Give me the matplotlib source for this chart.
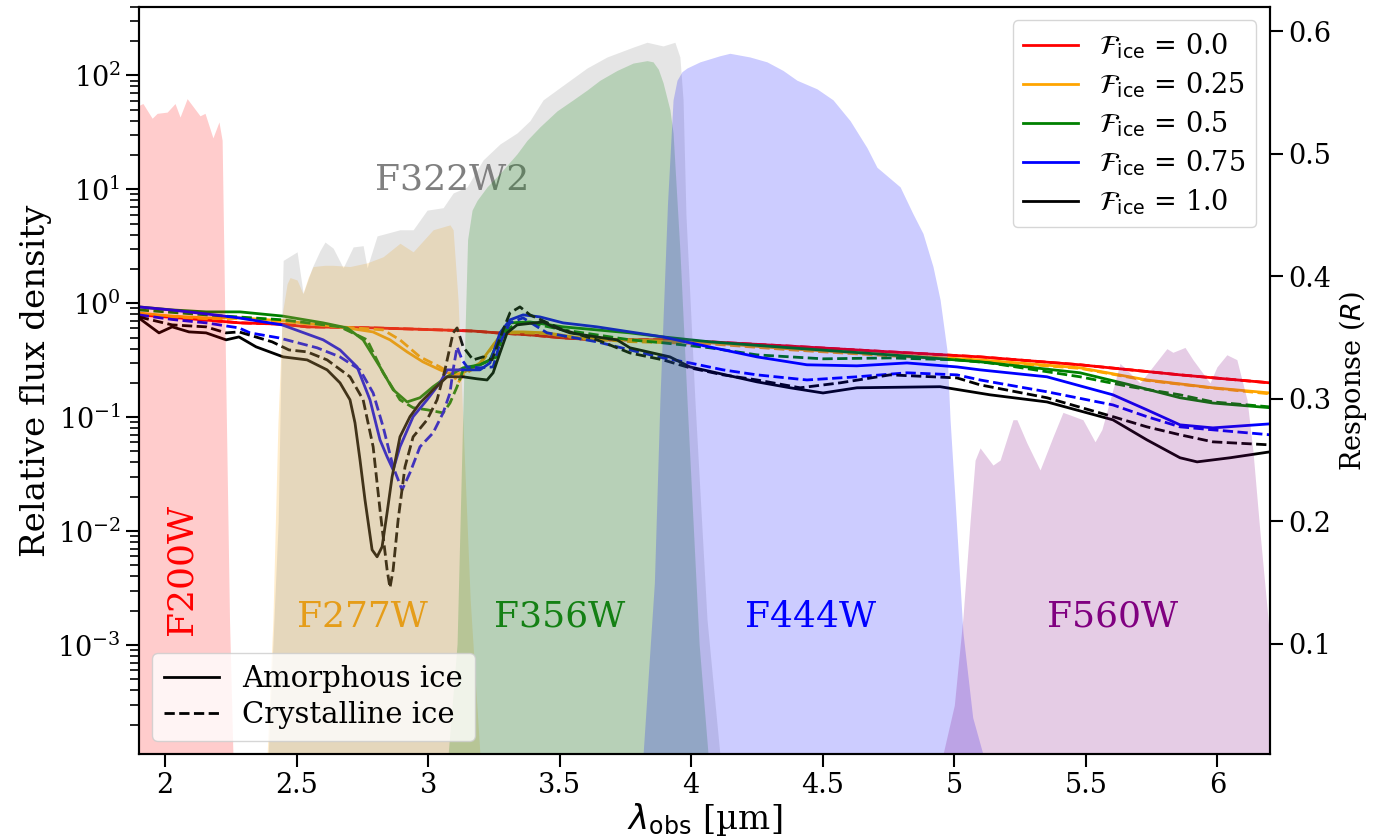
import matplotlib
matplotlib.use("Agg")
import matplotlib.pyplot as plt
from matplotlib.lines import Line2D

plt.rcParams['font.family'] = 'serif'
plt.rcParams['font.serif'] = ['DejaVu Serif']
plt.rcParams['mathtext.fontset'] = 'dejavusans'

# --- filter response curves (wavelength in micron, response R) ---
f200w_wl = [1.72, 1.76, 1.80, 1.84, 1.905, 1.916, 1.951, 1.970, 2.008, 2.038, 2.057, 2.084,
            2.133, 2.152, 2.182, 2.205, 2.217, 2.232, 2.245, 2.258, 2.27]
f200w_r = [0.0, 0.1, 0.45, 0.52, 0.540, 0.541, 0.529, 0.533, 0.534, 0.541, 0.530, 0.545,
           0.531, 0.533, 0.513, 0.526, 0.511, 0.299, 0.12, 0.01, 0.0]

f277w_wl = [2.37, 2.388, 2.41, 2.429, 2.446, 2.464, 2.475, 2.502, 2.524, 2.544, 2.563, 2.608, 2.639,
            2.703, 2.768, 2.829, 2.893, 2.943, 3.019, 3.083, 3.095, 3.114, 3.129, 3.16, 3.197, 3.21]
f277w_r = [0.0, 0.01, 0.12, 0.28, 0.37, 0.394, 0.399, 0.397, 0.386, 0.399, 0.408, 0.409, 0.409,
           0.408, 0.411, 0.416, 0.427, 0.420, 0.438, 0.442, 0.438, 0.38, 0.299, 0.136, 0.01, 0.0]

f322w2_wl = [2.39, 2.43, 2.445, 2.449, 2.502, 2.525, 2.559, 2.589, 2.608, 2.639, 2.677, 2.715,
             2.753, 2.768, 2.806, 2.893, 2.943, 2.996, 3.057, 3.095, 3.148, 3.209, 3.273, 3.338,
             3.387, 3.437, 3.501, 3.604, 3.680, 3.779, 3.832, 3.893, 3.938, 3.957, 3.969, 3.98,
             4.014, 4.06, 4.109, 4.13]
f322w2_r = [0.0, 0.2, 0.38, 0.413, 0.420, 0.386, 0.407, 0.421, 0.428, 0.423, 0.407, 0.424,
            0.425, 0.407, 0.433, 0.438, 0.438, 0.454, 0.456, 0.468, 0.473, 0.495, 0.508, 0.517,
            0.527, 0.544, 0.554, 0.570, 0.579, 0.587, 0.591, 0.588, 0.591, 0.579, 0.544, 0.45,
            0.299, 0.12, 0.01, 0.0]

f356w_wl = [3.05, 3.076, 3.11, 3.133, 3.15, 3.167, 3.186, 3.224, 3.273, 3.338, 3.376, 3.425,
            3.490, 3.551, 3.604, 3.653, 3.718, 3.779, 3.832, 3.855, 3.875, 3.893, 3.919, 3.931,
            3.957, 3.984, 4.03, 4.064, 4.09]
f356w_r = [0.0, 0.01, 0.1, 0.299, 0.43, 0.454, 0.462, 0.473, 0.484, 0.500, 0.511, 0.522,
           0.535, 0.544, 0.552, 0.560, 0.568, 0.574, 0.576, 0.575, 0.569, 0.558, 0.536, 0.517,
           0.421, 0.299, 0.1, 0.01, 0.0]

f444w_wl = [3.79, 3.817, 3.86, 3.881, 3.91, 3.931, 3.946, 3.965, 3.984, 4.033, 4.109, 4.147, 4.223,
            4.288, 4.349, 4.402, 4.478, 4.539, 4.604, 4.668, 4.706, 4.794, 4.843, 4.881, 4.919,
            4.946, 4.972, 4.984, 5.003, 5.033, 5.07, 5.109, 5.13]
f444w_r = [0.0, 0.01, 0.15, 0.299, 0.46, 0.544, 0.560, 0.567, 0.570, 0.575, 0.580, 0.582, 0.579,
           0.575, 0.568, 0.560, 0.553, 0.544, 0.527, 0.505, 0.489, 0.473, 0.451, 0.435, 0.408,
           0.381, 0.340, 0.283, 0.217, 0.109, 0.04, 0.01, 0.0]

f560w_wl = [4.93, 4.957, 5.0, 5.033, 5.06, 5.079, 5.098, 5.147, 5.174, 5.223, 5.238, 5.276,
            5.326, 5.375, 5.413, 5.489, 5.535, 5.561, 5.592, 5.630, 5.706, 5.808, 5.831, 5.877,
            5.907, 5.972, 5.998, 6.036, 6.074, 6.113, 6.135, 6.162, 6.192, 6.22, 6.25]
f560w_r = [0.0, 0.01, 0.05, 0.122, 0.2, 0.250, 0.260, 0.246, 0.250, 0.283, 0.283, 0.264,
           0.242, 0.269, 0.289, 0.283, 0.265, 0.275, 0.299, 0.329, 0.313, 0.341, 0.338, 0.342,
           0.332, 0.313, 0.326, 0.336, 0.332, 0.299, 0.258, 0.191, 0.122, 0.05, 0.0]

# --- model spectra, relative flux density ---
wl_ice00 = [1.90, 2.03, 2.16, 2.285, 2.445, 2.54, 2.66, 2.79, 2.92, 3.045, 3.17, 3.262,
            3.387, 3.513, 3.642, 3.893, 4.071, 4.376, 4.756, 5.098, 5.478, 5.858, 6.20]
flux_ice00 = [0.79, 0.75, 0.71, 0.672, 0.655, 0.62, 0.615, 0.607, 0.595, 0.583, 0.57, 0.549,
              0.527, 0.496, 0.477, 0.477, 0.458, 0.42, 0.374, 0.338, 0.288, 0.235, 0.20]

wl_ice25_am = [1.90, 2.03, 2.16, 2.285, 2.45, 2.665, 2.79, 2.855, 2.92, 2.98, 3.045, 3.095, 3.133,
               3.197, 3.262, 3.30, 3.361, 3.452, 3.577, 3.767, 4.071, 4.376, 4.756, 5.098, 5.478,
               5.732, 5.983, 6.20]
flux_ice25_am = [0.82, 0.77, 0.743, 0.743, 0.70, 0.62, 0.56, 0.477, 0.374, 0.306, 0.26, 0.235, 0.245,
                 0.299, 0.477, 0.56, 0.56, 0.549, 0.496, 0.477, 0.449, 0.397, 0.352, 0.318, 0.271,
                 0.212, 0.181, 0.163]
wl_ice25_cr = [1.90, 2.03, 2.16, 2.285, 2.45, 2.665, 2.829, 2.893, 2.969, 3.045, 3.095, 3.114, 3.133,
               3.197, 3.262, 3.30, 3.361, 3.452, 3.577, 3.767, 4.071, 4.376, 4.756, 5.098, 5.478,
               5.732, 5.983, 6.20]
flux_ice25_cr = [0.80, 0.76, 0.73, 0.735, 0.69, 0.62, 0.583, 0.477, 0.338, 0.276, 0.235, 0.20, 0.235,
                 0.288, 0.477, 0.549, 0.55, 0.54, 0.49, 0.46, 0.44, 0.39, 0.345, 0.312, 0.268,
                 0.21, 0.18, 0.16]

wl_ice50_am = [1.90, 2.027, 2.156, 2.285, 2.449, 2.601, 2.692, 2.753, 2.817, 2.867, 2.92, 2.969,
               3.019, 3.072, 3.133, 3.197, 3.235, 3.273, 3.311, 3.387, 3.513, 3.642, 3.767, 3.893,
               4.071, 4.376, 4.756, 5.098, 5.478, 5.668, 5.858, 5.983, 6.20]
flux_ice50_am = [0.928, 0.873, 0.839, 0.839, 0.77, 0.672, 0.607, 0.477, 0.276, 0.174, 0.136, 0.148,
                 0.185, 0.226, 0.271, 0.288, 0.318, 0.506, 0.672, 0.685, 0.62, 0.583, 0.549, 0.506,
                 0.458, 0.406, 0.352, 0.306, 0.245, 0.192, 0.148, 0.133, 0.121]
wl_ice50_cr = [1.90, 2.156, 2.449, 2.665, 2.768, 2.829, 2.893, 2.943, 2.996, 3.057, 3.083, 3.11,
               3.133, 3.197, 3.262, 3.285, 3.338, 3.387, 3.513, 3.642, 3.767, 3.893, 4.071, 4.25,
               4.501, 4.756, 5.01, 5.136, 5.478, 5.668, 5.858, 5.983, 6.20]
flux_ice50_cr = [0.873, 0.79, 0.714, 0.62, 0.477, 0.245, 0.142, 0.121, 0.116, 0.109, 0.133, 0.185,
                 0.26, 0.288, 0.338, 0.549, 0.672, 0.672, 0.583, 0.527, 0.477, 0.449, 0.406, 0.352,
                 0.325, 0.331, 0.318, 0.299, 0.226, 0.185, 0.157, 0.136, 0.123]

wl_ice75_am = [1.90, 2.027, 2.156, 2.281, 2.445, 2.601, 2.665, 2.73, 2.779, 2.817, 2.844, 2.867,
               2.893, 2.943, 2.996, 3.045, 3.072, 3.133, 3.197, 3.235, 3.273, 3.311, 3.361, 3.425,
               3.513, 3.642, 3.767, 3.893, 3.995, 4.25, 4.44, 4.63, 4.82, 5.01, 5.098, 5.352,
               5.603, 5.732, 5.858, 5.983, 6.20]
flux_ice75_am = [0.928, 0.87, 0.806, 0.743, 0.645, 0.477, 0.389, 0.276, 0.142, 0.0632, 0.0449, 0.0345,
                 0.0549, 0.101, 0.142, 0.2, 0.26, 0.26, 0.26, 0.299, 0.549, 0.714, 0.79, 0.758,
                 0.672, 0.62, 0.56, 0.506, 0.449, 0.338, 0.288, 0.282, 0.299, 0.276, 0.26, 0.226,
                 0.157, 0.116, 0.0856, 0.0805, 0.0873]
wl_ice75_cr = [1.90, 2.027, 2.156, 2.281, 2.323, 2.433, 2.578, 2.665, 2.741, 2.791, 2.829, 2.867,
               2.901, 2.931, 2.969, 3.019, 3.057, 3.083, 3.095, 3.11, 3.129, 3.148, 3.197, 3.247,
               3.273, 3.311, 3.361, 3.452, 3.642, 3.767, 3.893, 3.995, 4.121, 4.25, 4.44, 4.63,
               4.82, 5.01, 5.098, 5.352, 5.603, 5.732, 5.858, 5.983, 6.20]
flux_ice75_cr = [0.79, 0.72, 0.672, 0.607, 0.549, 0.496, 0.406, 0.338, 0.26, 0.163, 0.0822, 0.0366,
                 0.023, 0.0325, 0.0549, 0.0728, 0.109, 0.163, 0.26, 0.414, 0.318, 0.276, 0.271, 0.276,
                 0.449, 0.672, 0.743, 0.549, 0.458, 0.389, 0.331, 0.299, 0.26, 0.235, 0.212, 0.226,
                 0.245, 0.235, 0.212, 0.167, 0.128, 0.101, 0.0822, 0.0774, 0.07]

wl_ice100_am = [1.90, 1.977, 2.027, 2.091, 2.156, 2.232, 2.281, 2.346, 2.449, 2.54, 2.616, 2.665,
                2.703, 2.722, 2.741, 2.76, 2.787, 2.806, 2.825, 2.844, 2.863, 2.893, 2.931, 2.969,
                3.019, 3.072, 3.133, 3.186, 3.224, 3.247, 3.273, 3.30, 3.338, 3.437, 3.475, 3.539,
                3.665, 3.718, 3.767, 3.919, 3.995, 4.25, 4.376, 4.501, 4.63, 4.946, 5.136, 5.352,
                5.603, 5.732, 5.858, 5.923, 6.048, 6.20]
flux_ice100_am = [0.743, 0.549, 0.62, 0.56, 0.549, 0.477, 0.506, 0.414, 0.338, 0.318, 0.26, 0.2,
                  0.142, 0.0891, 0.0422, 0.0188, 0.00685, 0.00595, 0.00728, 0.0145, 0.0299, 0.0672,
                  0.101, 0.133, 0.174, 0.226, 0.226, 0.217, 0.212, 0.245, 0.366, 0.549, 0.645, 0.685,
                  0.62, 0.549, 0.496, 0.477, 0.406, 0.338, 0.276, 0.204, 0.181, 0.163, 0.181, 0.185,
                  0.157, 0.136, 0.0947, 0.0632, 0.044, 0.0405, 0.044, 0.0496]
wl_ice100_cr = [1.90, 2.027, 2.156, 2.232, 2.281, 2.407, 2.471, 2.54, 2.616, 2.703, 2.753, 2.791,
                2.817, 2.844, 2.855, 2.867, 2.886, 2.912, 2.943, 2.996, 3.034, 3.064, 3.095, 3.11,
                3.133, 3.171, 3.209, 3.243, 3.285, 3.311, 3.349, 3.387, 3.513, 3.642, 3.767, 3.893,
                3.995, 4.121, 4.25, 4.414, 4.566, 4.756, 5.01, 5.098, 5.352, 5.603, 5.732, 5.858,
                5.983, 6.20]
flux_ice100_cr = [0.758, 0.645, 0.62, 0.549, 0.56, 0.458, 0.389, 0.374, 0.318, 0.226, 0.142, 0.0549,
                  0.0154, 0.00458, 0.00318, 0.00458, 0.0126, 0.0366, 0.0672, 0.0947, 0.142, 0.26,
                  0.549, 0.607, 0.414, 0.318, 0.338, 0.318, 0.583, 0.822, 0.928, 0.79, 0.583, 0.477,
                  0.366, 0.318, 0.271, 0.235, 0.212, 0.181, 0.2, 0.235, 0.221, 0.192, 0.148, 0.101,
                  0.0822, 0.07, 0.0607, 0.0571]

fice_values = ['0.0', '0.25', '0.5', '0.75', '1.0']
line_colors = ['red', 'orange', 'green', 'blue', 'black']

xtick_vals = [2, 2.5, 3, 3.5, 4, 4.5, 5, 5.5, 6]
xtick_labels = ['2', '2.5', '3', '3.5', '4', '4.5', '5', '5.5', '6']
rtick_vals = [0.1, 0.2, 0.3, 0.4, 0.5, 0.6]

amorphous = [(wl_ice00, flux_ice00), (wl_ice25_am, flux_ice25_am), (wl_ice50_am, flux_ice50_am),
             (wl_ice75_am, flux_ice75_am), (wl_ice100_am, flux_ice100_am)]
crystalline = [(wl_ice00, flux_ice00), (wl_ice25_cr, flux_ice25_cr), (wl_ice50_cr, flux_ice50_cr),
               (wl_ice75_cr, flux_ice75_cr), (wl_ice100_cr, flux_ice100_cr)]

filters = [
    ('F200W', f200w_wl, f200w_r, 'red'),
    ('F277W', f277w_wl, f277w_r, 'orange'),
    ('F322W2', f322w2_wl, f322w2_r, 'gray'),
    ('F356W', f356w_wl, f356w_r, 'green'),
    ('F444W', f444w_wl, f444w_r, 'blue'),
    ('F560W', f560w_wl, f560w_r, 'purple'),
]

fig = plt.figure(figsize=(13.86, 8.39), dpi=100)
ax = fig.add_axes([0.1001, 0.101, 0.8162, 0.891])
ax2 = ax.twinx()

for (wa, fa), (wc, fc), c in zip(amorphous, crystalline, line_colors):
    ax.plot(wa, fa, color=c, ls='-', lw=2)
    ax.plot(wc, fc, color=c, ls='--', lw=2)

ax.set_yscale('log')
ax.set_xlim(1.9, 6.2)
ax.set_ylim(1.1e-4, 400)
ax.set_xticks(xtick_vals)
ax.set_xticklabels(xtick_labels)
ax.set_xlabel(r'$\lambda_{\rm obs}$ [µm]', fontsize=24.5, labelpad=1)
ax.set_ylabel('Relative flux density', fontsize=24.5)

# filter names sit under the transmission shading
ax.text(2.061, 0.0046, 'F200W', color='red', fontsize=26, rotation=90, ha='center', va='center')
ax.text(2.751, 0.00145, 'F277W', color='orange', fontsize=26, ha='center', va='baseline')
ax.text(3.09, 9.9, 'F322W2', color='gray', fontsize=26, ha='center', va='baseline')
ax.text(3.50, 0.00145, 'F356W', color='green', fontsize=26, ha='center', va='baseline')
ax.text(4.452, 0.00145, 'F444W', color='blue', fontsize=26, ha='center', va='baseline')
ax.text(5.601, 0.00145, 'F560W', color='purple', fontsize=26, ha='center', va='baseline')

for name, wl, resp, c in filters:
    ax2.fill_between(wl, 0, resp, color=c, alpha=0.2, lw=0)

ax2.set_ylim(0.01, 0.62)
ax2.set_yticks(rtick_vals)
ax2.set_ylabel(r'Response ($R$)', fontsize=19.5)

for a in (ax, ax2):
    a.tick_params(which='major', length=9.5, width=1.5, labelsize=19.5)
    a.tick_params(which='minor', length=6.5, width=1.2)
    for s in a.spines.values():
        s.set_linewidth(1.5)

fice_handles = [Line2D([], [], color=c, lw=2) for c in line_colors]
fice_labels = [r'$\mathcal{F}_{\rm ice}$ = ' + v for v in fice_values]
leg1 = ax2.legend(fice_handles, fice_labels, loc='upper right', fontsize=19.5,
                  labelspacing=0.35)
ax2.add_artist(leg1)

phase_handles = [Line2D([], [], color='black', ls='-', lw=2),
                 Line2D([], [], color='black', ls='--', lw=2)]
ax2.legend(phase_handles, ['Amorphous ice', 'Crystalline ice'], loc='lower left',
           fontsize=21, labelspacing=0.3, handlelength=1.9, borderaxespad=0.45)

fig.savefig('out.png', dpi=100)
